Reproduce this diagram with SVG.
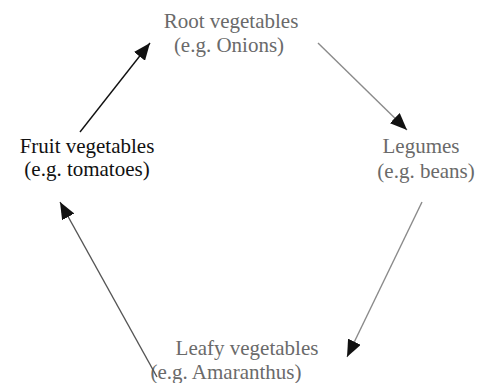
<svg xmlns="http://www.w3.org/2000/svg" width="478" height="383" viewBox="0 0 478 383">
<defs>
<marker id="ah" markerUnits="userSpaceOnUse" markerWidth="18" markerHeight="14" refX="17" refY="7" orient="auto">
<path d="M0,0 L17,7 L0,14 Z" fill="#111"/>
</marker>
<style>
.t{font-family:"Liberation Serif","Times New Roman",serif;font-size:21px;text-anchor:middle}
.g{fill:#6a6a6a}
.k{fill:#111}
.c{fill:none;stroke-width:1.4}
</style>
</defs>
<rect width="478" height="383" fill="#fff"/>
<g id="root"><text class="t g" x="231" y="28">Root vegetables</text><text class="t g" x="229" y="52">(e.g. Onions)</text></g>
<g id="legumes"><text class="t g" x="421" y="153">Legumes</text><text class="t g" x="426" y="178">(e.g. beans)</text></g>
<g id="leafy"><text class="t g" x="247" y="355">Leafy vegetables</text><text class="t g" x="226" y="379">(e.g. Amaranthus)</text></g>
<g id="fruit"><text class="t k" x="87" y="153">Fruit vegetables</text><text class="t k" x="87" y="176">(e.g. tomatoes)</text></g>
<g id="connectors">
<path class="c" stroke="#8a8a8a" d="M318,43 L407,130" marker-end="url(#ah)"/>
<path class="c" stroke="#8a8a8a" d="M422,202 L347,357" marker-end="url(#ah)"/>
<path class="c" stroke="#555" d="M157,377 L60,202" marker-end="url(#ah)"/>
<path class="c" stroke="#111" d="M80,132 L150,43" marker-end="url(#ah)"/>
</g>
</svg>
